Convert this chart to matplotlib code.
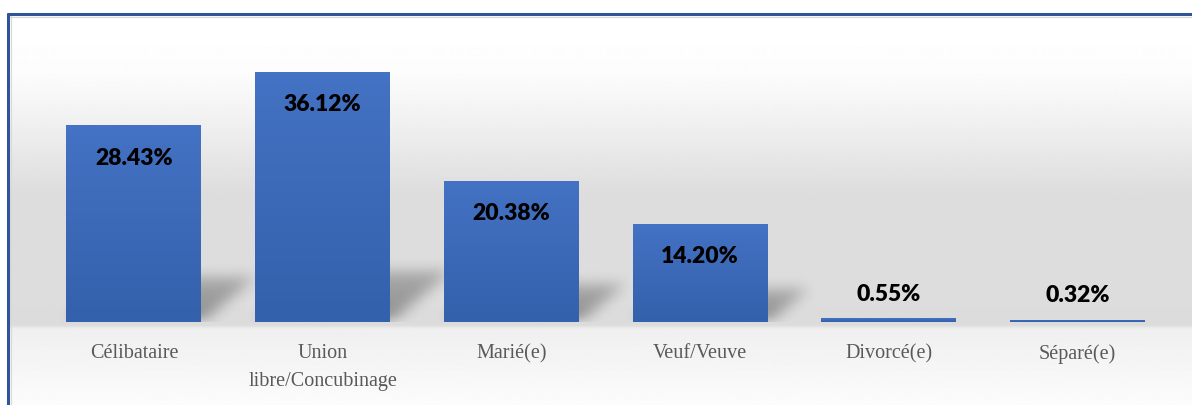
import numpy as np
import matplotlib.pyplot as plt
from matplotlib.path import Path
from matplotlib.colors import LinearSegmentedColormap

categories = ['Célibataire', 'Union\nlibre/Concubinage', 'Marié(e)',
              'Veuf/Veuve', 'Divorcé(e)', 'Séparé(e)']
values = [28.43, 36.12, 20.38, 14.20, 0.55, 0.32]
value_labels = ['28.43%', '36.12%', '20.38%', '14.20%', '0.55%', '0.32%']

W, H = 1192, 406
fig = plt.figure(figsize=(W / 100, H / 100), dpi=100)

# background (pixel coordinates)
bg = fig.add_axes([0, 0, 1, 1])
bg.set_xlim(0, W)
bg.set_ylim(H, 0)
bg.axis('off')
ys = np.arange(H)
grey = np.interp(ys, [17, 60, 100, 150, 185, 322, 326, 406],
                 [255, 252, 243, 230, 221, 220, 239, 252]) / 255.0
grad = np.repeat(grey[:, None], 2, axis=1)
bg.imshow(grad, cmap='gray', vmin=0, vmax=1, extent=(9, W, H, 17),
          aspect='auto', interpolation='bilinear', zorder=0)
bg.plot([7, W], [15, 15], color='#2f5597', lw=2.2, solid_capstyle='butt', zorder=2)
bg.plot([8, 8], [14, H], color='#2f5597', lw=2.2, solid_capstyle='butt', zorder=2)
bg.plot([10, W], [17.5, 17.5], color='#d9d9d9', lw=0.8, zorder=1)
bg.plot([10.5, 10.5], [17, H], color='#d9d9d9', lw=0.8, zorder=1)

# plot area
x0_px, x1_px, top_px, base_px = 39.6, 1172.0, 46.0, 323.0
ax = fig.add_axes([x0_px / W, (H - base_px) / H, (x1_px - x0_px) / W,
                   (base_px - top_px) / H])
ax.patch.set_alpha(0)
ymax = 40.0
x = np.arange(len(categories))
width = 0.715
n = len(categories)

# soft perspective shadows behind the bars, rendered as a blurred mask
aw, ah = int(x1_px - x0_px), int(base_px - top_px)
ppx = aw / n          # pixels per category unit
gx, gy = np.meshgrid(np.arange(aw) + 0.5, np.arange(ah) + 0.5)
pts = np.column_stack([gx.ravel(), gy.ravel()])
shadow = np.zeros(gx.shape)
for xi, v in zip(x, values):
    if v < 2:
        continue
    dx = 28 + 0.9 * v
    dy = 22 + 0.8 * v
    l = (xi - width / 2 + 0.5) * ppx
    r = (xi + width / 2 + 0.5) * ppx
    poly = Path([(l, 0), (r, 0), (r + dx, dy), (l + dx, dy)])
    m = poly.contains_points(pts).reshape(gx.shape).astype(float)
    shadow = np.maximum(shadow, m * np.clip(1 - 0.35 * gy / dy, 0, 1))
k = np.ones(13) / 13
for _ in range(3):
    shadow = np.apply_along_axis(lambda c: np.convolve(c, k, mode='same'), 0, shadow)
    shadow = np.apply_along_axis(lambda c: np.convolve(c, k, mode='same'), 1, shadow)
rgba = np.zeros((ah, aw, 4))
rgba[..., 3] = np.clip(shadow * 0.36, 0, 1)
ax.imshow(rgba, origin='lower', extent=(-0.5, n - 0.5, 0, ymax),
          aspect='auto', interpolation='bilinear', zorder=1)

bars = ax.bar(x, values, width=width, color='#3f6bbd', zorder=2)
bar_cmap = LinearSegmentedColormap.from_list('b', ['#3461ab', '#4472c4'])
for b in bars:
    img = np.linspace(0, 1, 50)[::-1, None]
    im = ax.imshow(img, cmap=bar_cmap, aspect='auto', zorder=3,
                   extent=(b.get_x(), b.get_x() + b.get_width(), 0, b.get_height()))
    im.set_clip_path(b)

for xi, v, lab in zip(x, values, value_labels):
    off = -23 if v > 5 else 18
    ax.annotate(lab, (xi, v), xytext=(0, off), textcoords='offset points',
                ha='center', va='center', fontsize=16.5, fontweight='heavy',
                family='Lato', color='black', zorder=5)

ax.set_xlim(-0.5, n - 0.5)
ax.set_ylim(0, ymax)
ax.set_xticks(x)
ax.set_xticklabels(categories, family='Liberation Serif', fontsize=14.5,
                   color='#595959', linespacing=1.65)
ax.tick_params(axis='x', length=0, pad=15)
ax.set_yticks([])
for sp in ax.spines.values():
    sp.set_visible(False)

fig.savefig('out.png', dpi=100)
